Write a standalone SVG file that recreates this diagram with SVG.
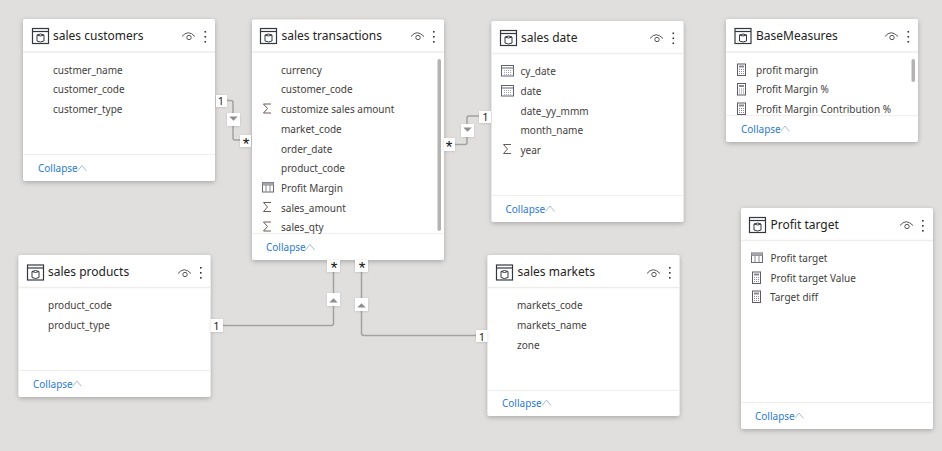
<svg xmlns="http://www.w3.org/2000/svg" width="942" height="451" viewBox="0 0 942 451">
<style>
text{font-family:"Noto Sans","Open Sans","Liberation Sans",sans-serif;}
.card{fill:#fff;filter:url(#sh);}
.sep{stroke:#efeeed;stroke-width:1;fill:none;}
.hd{stroke:#eeedec;stroke-width:1.5;fill:none;}
.title{font-size:12px;fill:#252423;}
.f{font-size:10px;fill:#3f3e3d;}
.col{font-size:10px;fill:#2b7bd0;}
.chev{fill:none;stroke:#a9bcd6;stroke-width:1;}
.scroll{fill:#b4b3b1;}
.ln{fill:none;stroke:#a3a2a0;stroke-width:1.5;}
.badge{fill:#fff;filter:url(#sb);}
.tri{fill:#8f8e8c;}
.bt{font-size:11px;fill:#252423;text-anchor:middle;}
.st{font-size:17px;fill:#111;text-anchor:middle;font-family:"Liberation Sans",sans-serif;}
.ic{fill:none;stroke:#3b4a5c;stroke-width:1;}
</style>
<defs>
<filter id="sh" x="-10%" y="-10%" width="120%" height="120%"><feDropShadow dx="0" dy="1.5" stdDeviation="2.5" flood-color="#000" flood-opacity=".25"/></filter>
<filter id="sb" x="-30%" y="-30%" width="160%" height="160%"><feDropShadow dx="0" dy="0.5" stdDeviation="0.8" flood-color="#000" flood-opacity=".15"/></filter>
<g id="tbl"><rect x="0.5" y="0.5" width="16" height="15" fill="none" stroke="#33383f" stroke-width="1.2"/><path d="M0.5 3.5H16.5" stroke="#33383f" stroke-width="1.2"/><path d="M5 7q3.500-2 7 0v6q-3.500 2-7 0z" fill="none" stroke="#33383f"/><path d="M5 7q3.500 2 7 0" fill="none" stroke="#33383f"/></g>
<g id="eye"><path d="M0 5.500Q6-2 13 5.500" fill="none" stroke="#555" stroke-width="1"/><circle cx="7" cy="6.500" r="2.200" fill="none" stroke="#555"/></g>
<g id="dots" fill="#333"><rect x="0" y="0" width="1.600" height="1.600"/><rect x="0" y="5" width="1.600" height="1.600"/><rect x="0" y="10" width="1.600" height="1.600"/></g>
<path id="sig" d="M8 0.500H0.500L4.500 5 0.500 9.500H8" fill="none" stroke="#6b5a55" stroke-width="1"/>
<g id="cal"><rect x="0.500" y="1.500" width="12" height="10.500" fill="none" stroke="#5f6670"/><path d="M0.500 4H12.500" stroke="#5f6670"/><path d="M3 6.500H10.500M3 8.500H10.500M3 10.500H10.500" stroke="#a9a6c8" stroke-dasharray="1 1"/></g>
<g id="calc"><rect x="0.500" y="0.500" width="8" height="11.500" fill="#fff" stroke="#5f5a66"/><rect x="2" y="2" width="5" height="2" fill="#8a8790"/><path d="M2 6H7.500M2 8H7.500M2 10H7.500" stroke="#8a87a0" stroke-dasharray="1 1"/></g>
<g id="tq"><rect x="0.500" y="0.500" width="11" height="9.500" fill="none" stroke="#6b6a70"/><path d="M0.500 3H11.500M4 3V10M8 3V10" stroke="#8a8990"/><rect x="0.500" y="0.500" width="11" height="2.500" fill="#a5a4a8"/></g>
<path id="up" d="M-3.500 2L0-1.500 3.500 2H-3.500z"/>
</defs>
<rect width="942" height="451" fill="#e0dfdd"/>

<g id="connectors">
<path class="ln" d="M227 100.500H231Q233 100.500 233 102.500V138Q233 140 235 140H240" stroke-width="1"/>
<path class="ln" d="M455 144.500H465Q467 144.500 467 142.500V118Q467 116 469 116H479"/>
<path class="ln" d="M223 325.500H331.500Q333.500 325.500 333.500 323.500V272"/>
<path class="ln" d="M361.500 272V333Q361.500 335.500 364 335.500H476"/>
</g>

<g id="sales-customers">
<rect class="card" x="23" y="19" width="192" height="162" rx="2"/>
<path class="hd" d="M23 52H215"/><path class="sep" d="M23 154.500H215"/>
<use href="#tbl" x="32" y="28"/><text class="title" x="53" y="40">sales customers</text>
<use href="#eye" x="182" y="31"/><use href="#dots" x="204.500" y="31"/>
<text class="f" x="53" y="73.500">custmer_name</text><text class="f" x="53" y="92.500">customer_code</text><text class="f" x="53" y="112.500">customer_type</text>
<text class="col" x="38" y="172">Collapse</text><path class="chev" d="M77.500 171L82 165.500 86.500 171"/>
</g>

<g id="sales-transactions">
<rect class="card" x="252" y="19.500" width="192" height="240.500" rx="2"/>
<path class="hd" d="M252 52H444"/><path class="sep" d="M252 233.500H444"/>
<use href="#tbl" x="260" y="28"/><text class="title" x="281.500" y="40">sales transactions</text>
<use href="#eye" x="411" y="31"/><use href="#dots" x="433" y="31"/>
<rect class="scroll" x="437.500" y="59" width="3.500" height="172" rx="1.700"/>
<text class="f" x="281" y="73.500">currency</text><text class="f" x="281" y="92.500">customer_code</text>
<use href="#sig" x="263" y="103.500"/><text class="f" x="281" y="112.500">customize sales amount</text>
<text class="f" x="281" y="132.500">market_code</text><text class="f" x="281" y="152.500">order_date</text><text class="f" x="281" y="171.500">product_code</text>
<use href="#tq" x="262" y="182"/><text class="f" x="281" y="191.500">Profit Margin</text>
<use href="#sig" x="263" y="202"/><text class="f" x="281" y="211.500">sales_amount</text>
<use href="#sig" x="263" y="221.500"/><text class="f" x="281" y="230.500">sales_qty</text>
<text class="col" x="266" y="251">Collapse</text><path class="chev" d="M305.500 250L310 244.500 314.500 250"/>
</g>

<g id="sales-date">
<rect class="card" x="491.500" y="21" width="192" height="201" rx="2"/>
<path class="hd" d="M491.500 53.500H683.500"/><path class="sep" d="M491.500 195.500H683.500"/>
<use href="#tbl" x="500" y="30"/><text class="title" x="521" y="42">sales date</text>
<use href="#eye" x="650" y="33"/><use href="#dots" x="672.500" y="32.500"/>
<use href="#cal" x="501" y="64"/><text class="f" x="520.500" y="74.500">cy_date</text>
<use href="#cal" x="501" y="84"/><text class="f" x="520.500" y="94.500">date</text>
<text class="f" x="520.500" y="114.500">date_yy_mmm</text><text class="f" x="520.500" y="133.500">month_name</text>
<use href="#sig" x="503" y="144"/><text class="f" x="520.500" y="153.500">year</text>
<text class="col" x="505.500" y="213">Collapse</text><path class="chev" d="M545.500 211.500L550 206 554.500 211.500"/>
</g>

<g id="BaseMeasures">
<rect class="card" x="726" y="19" width="192" height="123" rx="2"/>
<path class="hd" d="M726 52H918"/><path class="sep" d="M726 115.500H918"/>
<use href="#tbl" x="734.500" y="28"/><text class="title" x="756" y="40">BaseMeasures</text>
<use href="#eye" x="885" y="31"/><use href="#dots" x="907.500" y="31"/>
<rect class="scroll" x="911.500" y="59" width="3.500" height="23" rx="1.700"/>
<use href="#calc" x="737" y="63.500"/><text class="f" x="756" y="73.500">profit margin</text>
<use href="#calc" x="737" y="83"/><text class="f" x="756" y="92.500">Profit Margin %</text>
<use href="#calc" x="737" y="102.500"/><text class="f" x="756" y="112.500">Profit Margin Contribution %</text>
<text class="col" x="741" y="133">Collapse</text><path class="chev" d="M780.500 131.500L785 126 789.500 131.500"/>
</g>

<g id="Profit-target">
<rect class="card" x="741" y="208" width="192" height="221" rx="2"/>
<path class="hd" d="M741 240.500H933"/><path class="sep" d="M741 402.500H933"/>
<use href="#tbl" x="749" y="217"/><text class="title" x="770.500" y="229">Profit target</text>
<use href="#eye" x="900" y="220"/><use href="#dots" x="922" y="220"/>
<use href="#tq" x="751" y="252.500"/><text class="f" x="770.500" y="261.500">Profit target</text>
<use href="#calc" x="752" y="271.500"/><text class="f" x="770.500" y="281.500">Profit target Value</text>
<use href="#calc" x="752" y="290.500"/><text class="f" x="770" y="300.500">Target diff</text>
<text class="col" x="755" y="420">Collapse</text><path class="chev" d="M794.500 418.500L799 413 803.500 418.500"/>
</g>

<g id="sales-products">
<rect class="card" x="18.500" y="255" width="192" height="142" rx="2"/>
<path class="hd" d="M18.500 287.500H210.500"/><path class="sep" d="M18.500 370.500H210.500"/>
<use href="#tbl" x="27" y="264.500"/><text class="title" x="48" y="276">sales products</text>
<use href="#eye" x="178" y="268"/><use href="#dots" x="200" y="267"/>
<text class="f" x="48" y="308.500">product_code</text><text class="f" x="48" y="328.500">product_type</text>
<text class="col" x="33" y="388">Collapse</text><path class="chev" d="M72.500 386.500L77 381 81.500 386.500"/>
</g>

<g id="sales-markets">
<rect class="card" x="487.500" y="255" width="192" height="161" rx="2"/>
<path class="hd" d="M487.500 287.500H679.500"/><path class="sep" d="M487.500 390.500H679.500"/>
<use href="#tbl" x="496" y="264.500"/><text class="title" x="517.500" y="276">sales markets</text>
<use href="#eye" x="647" y="268"/><use href="#dots" x="669" y="267"/>
<text class="f" x="517" y="308.500">markets_code</text><text class="f" x="517" y="328.500">markets_name</text><text class="f" x="517" y="348.500">zone</text>
<text class="col" x="502" y="407">Collapse</text><path class="chev" d="M542 405.500L546.500 400 551 405.500"/>
</g>

<g id="badges">
<rect class="badge" x="216" y="95" width="11" height="12"/><text class="bt" x="221" y="104.500">1</text>
<rect class="badge" x="227" y="113" width="13" height="13"/><path class="tri" transform="translate(233.500 119) rotate(180) scale(1.200)" d="M-3.500 2L0-1.500 3.500 2H-3.500z"/>
<rect class="badge" x="240" y="135" width="11" height="12"/><text class="st" x="246" y="150">*</text>
<rect class="badge" x="444" y="138" width="11" height="13"/><text class="st" x="449" y="153">*</text>
<rect class="badge" x="461" y="124" width="13" height="13"/><path class="tri" transform="translate(467.500 130) rotate(180) scale(1.200)" d="M-3.500 2L0-1.500 3.500 2H-3.500z"/>
<rect class="badge" x="479" y="111" width="12" height="12"/><text class="bt" x="485.500" y="121">1</text>
<rect class="badge" x="210.500" y="319" width="12.500" height="13"/><text class="bt" x="216.500" y="330">1</text>
<rect class="badge" x="327" y="293" width="13" height="13"/><path class="tri" transform="translate(333.500 300) scale(1.200)" d="M-3.500 2L0-1.500 3.500 2H-3.500z"/>
<rect class="badge" x="327" y="260" width="13" height="12"/><text class="st" x="334" y="273.500">*</text>
<rect class="badge" x="355" y="260" width="13" height="12"/><text class="st" x="362" y="273.500">*</text>
<rect class="badge" x="355" y="298" width="13" height="13"/><path class="tri" transform="translate(361.500 305) scale(1.200)" d="M-3.500 2L0-1.500 3.500 2H-3.500z"/>
<rect class="badge" x="476" y="330" width="11.500" height="12"/><text class="bt" x="482" y="340.500">1</text>
</g>
</svg>
